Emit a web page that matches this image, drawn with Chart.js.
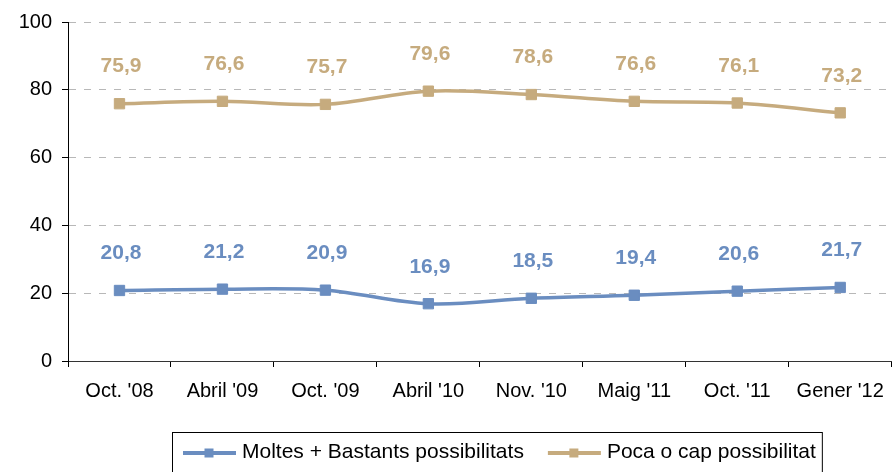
<!DOCTYPE html>
<html>
<head>
<meta charset="utf-8">
<script src="https://cdn.jsdelivr.net/npm/chart.js@4/dist/chart.umd.min.js"></script>
<style>
  html, body { margin: 0; padding: 0; background: #fff; overflow: hidden; }
  #wrap { width: 900px; height: 472px; position: relative; }
</style>
</head>
<body>
<div id="wrap"><canvas id="c"></canvas></div>
<script>
const categories = ["Oct. '08", "Abril '09", "Oct. '09", "Abril '10", "Nov. '10", "Maig '11", "Oct. '11", "Gener '12"];
const seriesNames = ["Moltes + Bastants possibilitats", "Poca o cap possibilitat"];
const moltesBastants = [20.8, 21.2, 20.9, 16.9, 18.5, 19.4, 20.6, 21.7];
const pocaCap = [75.9, 76.6, 75.7, 79.6, 78.6, 76.6, 76.1, 73.2];
const yTicks = [0, 20, 40, 60, 80, 100];

const BLUE = '#6A8DC0';
const TAN = '#C6AB7E';
const FONT = '"Liberation Sans", Arial, sans-serif';

const valueLabels = {
  id: 'valueLabels',
  afterDatasetsDraw(chart) {
    const ctx = chart.ctx;
    ctx.save();
    ctx.font = 'bold 21px ' + FONT;
    ctx.textAlign = 'center';
    ctx.textBaseline = 'middle';
    chart.data.datasets.forEach((ds, i) => {
      const meta = chart.getDatasetMeta(i);
      ctx.fillStyle = ds.borderColor;
      meta.data.forEach((pt, j) => {
        const txt = ds.data[j].toFixed(1).replace('.', ',');
        ctx.fillText(txt, pt.x + 1.5, pt.y - 37);
      });
    });
    ctx.restore();
  }
};

const boxLegend = {
  id: 'boxLegend',
  afterDraw(chart) {
    const ctx = chart.ctx;
    ctx.save();
    ctx.font = '21px ' + FONT;
    ctx.textBaseline = 'middle';
    const left = 172, top = 432.5, cy = 453;
    let x = left + 11;
    const items = chart.data.datasets.map(ds => ({ label: ds.label, color: ds.borderColor }));
    items.forEach((it, k) => {
      ctx.strokeStyle = it.color;
      ctx.lineWidth = 4;
      ctx.beginPath();
      ctx.moveTo(x, cy);
      ctx.lineTo(x + 53, cy);
      ctx.stroke();
      ctx.fillStyle = it.color;
      ctx.fillRect(x + 26 - 4.5, cy - 4.5, 9, 9);
      ctx.fillStyle = '#000';
      ctx.fillText(it.label, x + 59, cy - 1);
      const w = ctx.measureText(it.label).width;
      x = x + 59 + w + (k === 0 ? 24 : 6);
    });
    ctx.strokeStyle = '#000';
    ctx.lineWidth = 1;
    ctx.strokeRect(left + 0.5, top, x - left, 60);
    ctx.restore();
  }
};

new Chart(document.getElementById('c'), {
  type: 'line',
  data: {
    labels: categories,
    datasets: [
      {
        label: seriesNames[0],
        data: moltesBastants,
        borderColor: BLUE,
        backgroundColor: BLUE,
        borderWidth: 3.5,
        pointStyle: 'rect',
        pointRadius: 7.3,
        pointBorderWidth: 1,
        pointBackgroundColor: BLUE,
        pointBorderColor: BLUE,
        tension: 0.35,
        fill: false
      },
      {
        label: seriesNames[1],
        data: pocaCap,
        borderColor: TAN,
        backgroundColor: TAN,
        borderWidth: 3.5,
        pointStyle: 'rect',
        pointRadius: 7.3,
        pointBorderWidth: 1,
        pointBackgroundColor: TAN,
        pointBorderColor: TAN,
        tension: 0.35,
        fill: false
      }
    ]
  },
  options: {
    responsive: true,
    maintainAspectRatio: false,
    animation: false,
    layout: { padding: { left: 0, right: 1, top: 21, bottom: 0 } },
    plugins: {
      legend: { display: false },
      tooltip: { enabled: false }
    },
    scales: {
      x: {
        offset: true,
        grid: {
          offset: true,
          drawOnChartArea: false,
          drawTicks: true,
          tickLength: 6,
          tickColor: '#000',
          color: '#000'
        },
        border: { display: true, color: '#333', width: 1 },
        ticks: {
          color: '#000',
          font: { family: FONT, size: 20 },
          padding: 12,
          maxRotation: 0,
          autoSkip: false
        },
        afterFit(scale) { scale.height = 111; }
      },
      y: {
        min: 0,
        max: 100,
        afterBuildTicks(scale) { scale.ticks = yTicks.map(v => ({ value: v })); },
        grid: {
          color: ctx => (ctx.tick && ctx.tick.value === 0) ? 'rgba(0,0,0,0)' : '#B8B8B8',
          lineWidth: 1,
          drawTicks: true,
          tickLength: 6,
          tickColor: '#000',
          tickBorderDash: []
        },
        border: { display: true, color: '#000', width: 1, dash: [7, 8] },
        ticks: {
          color: '#000',
          font: { family: FONT, size: 20 },
          padding: 10
        },
        afterFit(scale) { scale.width = 68; }
      }
    }
  },
  plugins: [valueLabels, boxLegend]
});
</script>
</body>
</html>
